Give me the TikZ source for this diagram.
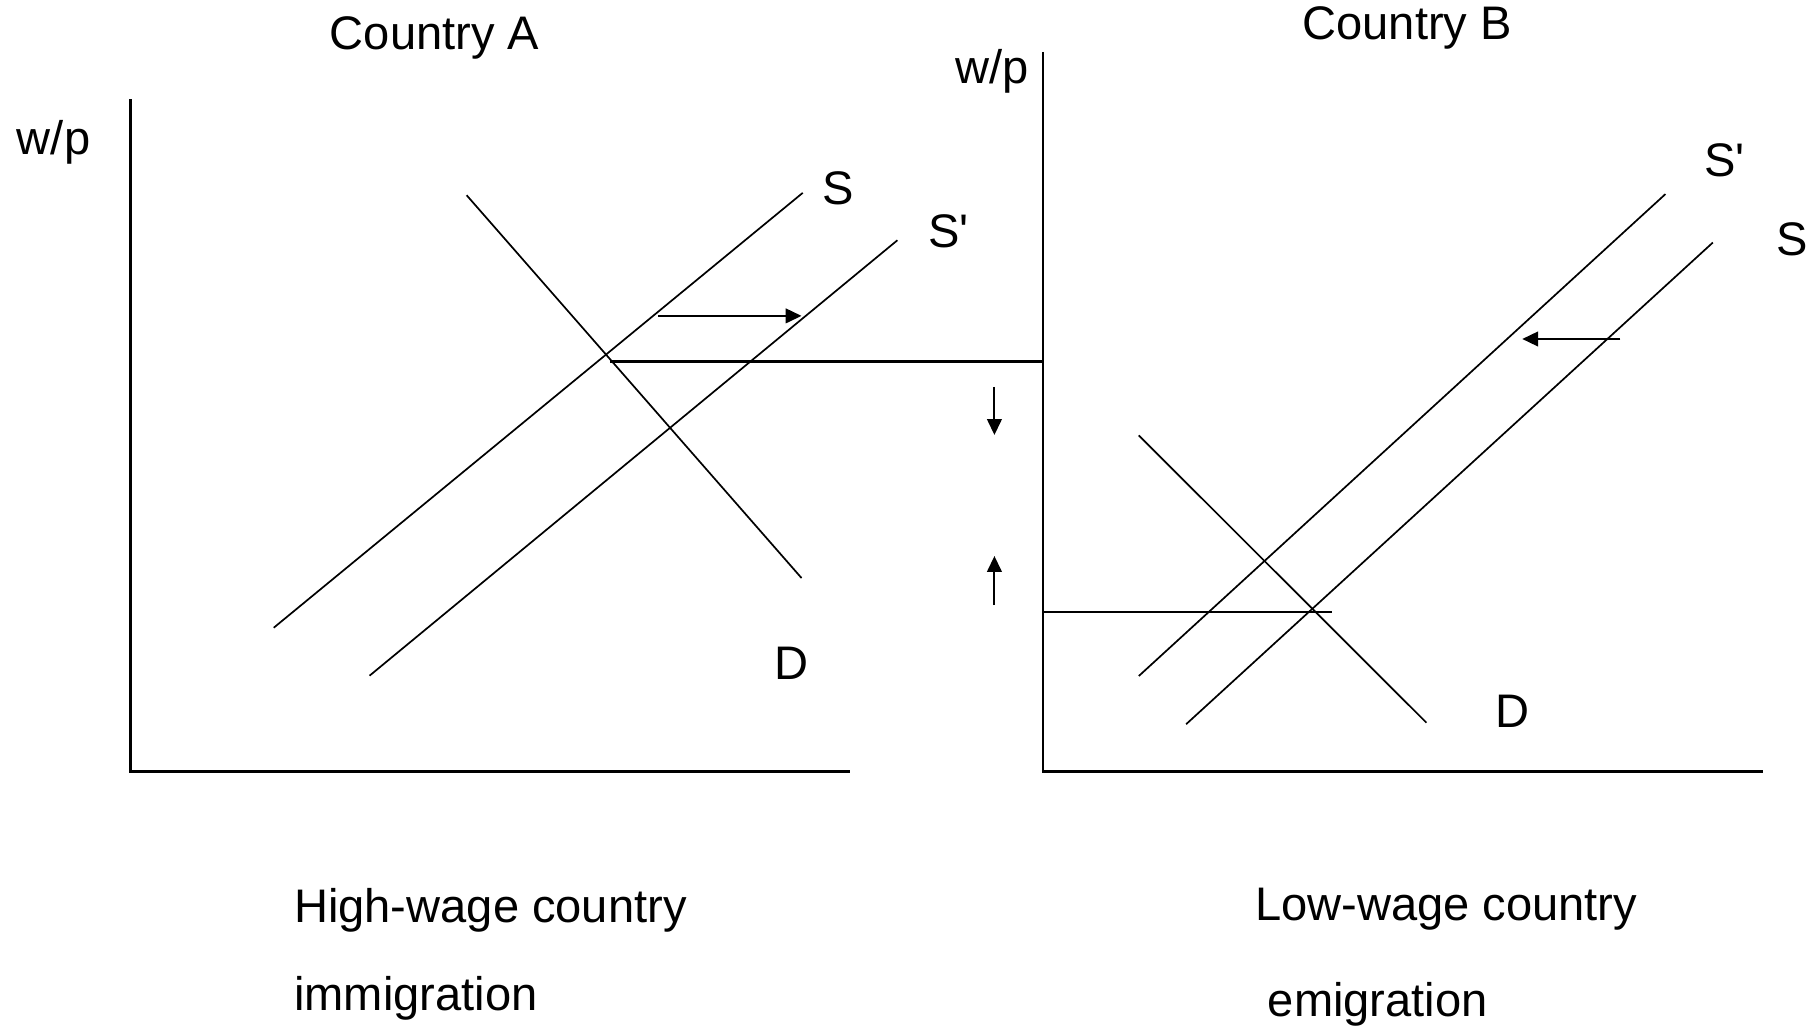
\documentclass[tikz,border=0pt]{standalone}
\usepackage{fontspec}
\setmainfont{Liberation Sans}[Ligatures=TeXOff]
\usetikzlibrary{arrows.meta}
\begin{document}
\begin{tikzpicture}[x=0.1mm,y=-0.1mm,
  lbl/.style={font=\fontsize{11.6}{14}\selectfont, inner sep=0pt},
  curve/.style={line width=0.42pt},
  axis/.style={line width=0.55pt},
  level/.style={line width=0.55pt},
  shiftarrow/.style={line width=0.5pt,-{Triangle[length=3.9pt,width=3.6pt]}}]
\useasboundingbox (0,0) rectangle (1568,888);
% ---------- Country A ----------
\coordinate (A0) at (113,668);
\coordinate (Atop) at (113,86);
\coordinate (Aend) at (736,668);
\draw[axis] (Atop) -- (A0) -- (Aend);
\coordinate (ADt) at (404,169);
\coordinate (ADb) at (694,500.5);
\coordinate (ASt) at (695,167);
\coordinate (ASb) at (237,543.5);
\coordinate (APt) at (777,208);
\coordinate (APb) at (320,585);
\draw[curve] (ADt) -- (ADb);
\draw[curve] (ASb) -- (ASt);
\draw[curve] (APb) -- (APt);
\coordinate (AarrS) at (570,273.5);
\coordinate (AarrE) at (694,273.5);
\draw[shiftarrow] (AarrS) -- (AarrE);
\node[lbl, anchor=base west] (wpA) at (14,134) {w/p};
\node[lbl, anchor=base west] (titleA) at (285,43) {Country A};
\node[lbl, anchor=base west] (labAS) at (711,177) {S};
\node[lbl, anchor=base west] (labASp) at (803,214) {S'};
\node[lbl, anchor=base west] (labAD) at (670,588) {D};
\node[lbl, anchor=base west] (capA1) at (254,799) {High-wage country};
\node[lbl, anchor=base west] (capA2) at (254,875) {immigration};
% ---------- Country B ----------
\coordinate (B0) at (903,668);
\coordinate (Btop) at (903,45);
\coordinate (Bend) at (1526,668);
\draw[axis] (Btop) -- (B0) -- (Bend);
\coordinate (AeqS) at (528,313);
\coordinate (AeqE) at (903,313);
\draw[level] (AeqS) -- (AeqE);
\coordinate (BeqS) at (903,530);
\coordinate (BeqE) at (1153,530);
\draw[level] (BeqS) -- (BeqE);
\coordinate (BDt) at (986,377);
\coordinate (BDb) at (1235,625.7);
\coordinate (BPt) at (1442,168);
\coordinate (BPb) at (986,585.3);
\coordinate (BSt) at (1483,210);
\coordinate (BSb) at (1027,627);
\draw[curve] (BDt) -- (BDb);
\draw[curve] (BPb) -- (BPt);
\draw[curve] (BSb) -- (BSt);
\coordinate (BarrS) at (1403,293.5);
\coordinate (BarrE) at (1318,293.5);
\draw[shiftarrow] (BarrS) -- (BarrE);
\coordinate (dnS) at (861,335);
\coordinate (dnE) at (861,376.6);
\draw[shiftarrow] (dnS) -- (dnE);
\coordinate (upS) at (861,524);
\coordinate (upE) at (861,481.4);
\draw[shiftarrow] (upS) -- (upE);
\node[lbl, anchor=base east] (wpB) at (891,72) {w/p};
\node[lbl, anchor=base west] (titleB) at (1127,34) {Country B};
\node[lbl, anchor=base west] (labBSp) at (1475,153) {S'};
\node[lbl, anchor=base west] (labBS) at (1537,221) {S};
\node[lbl, anchor=base west] (labBD) at (1294,629.6) {D};
\node[lbl, anchor=base west] (capB1) at (1086,797) {Low-wage country};
\node[lbl, anchor=base west] (capB2) at (1097,880) {emigration};
\end{tikzpicture}
\end{document}
